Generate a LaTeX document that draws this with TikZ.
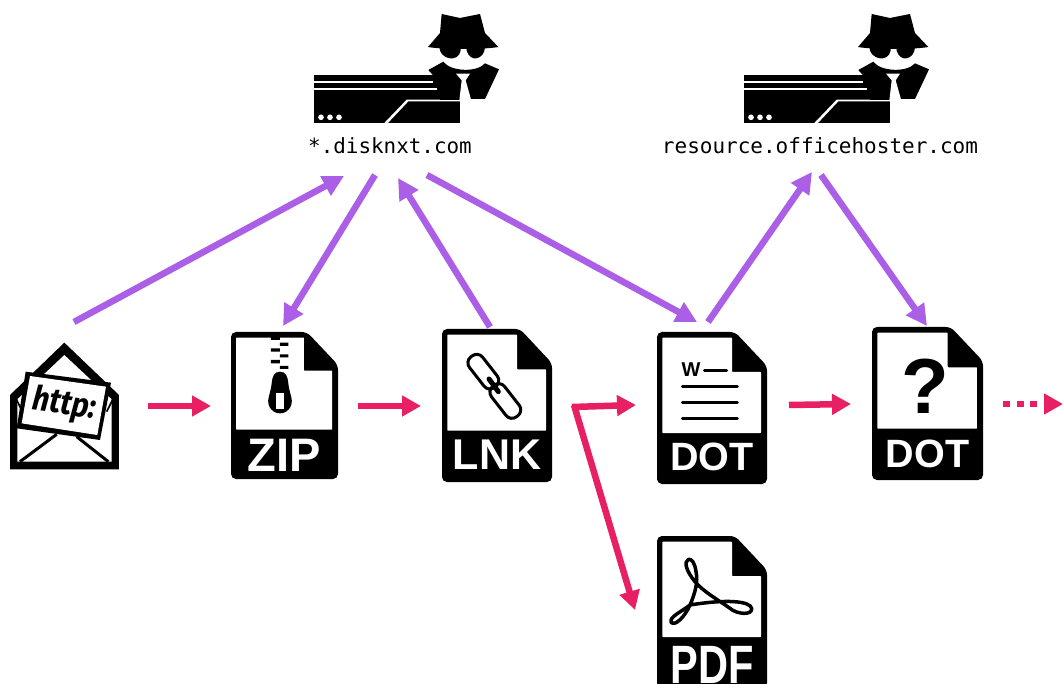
\documentclass[tikz,border=0pt]{standalone}
\usepackage{fontspec}
\setmainfont{Liberation Sans}
\newfontfamily\monof{DejaVu Sans Mono}
\newfontfamily\firaf{Fira Sans}
\usetikzlibrary{arrows.meta}
\definecolor{pur}{HTML}{AB5FE6}
\definecolor{pnk}{HTML}{E91F63}
\tikzset{
  zc/.style 2 args={shift={(#1,#2)},x=.33333pt,y=-.33333pt},
  box/.style={inner sep=0pt,outer sep=0pt,draw=none},
  purarrow/.style={draw=pur,line width=6.5pt,-{Triangle[length=21pt,width=21pt]}},
  pnkarrow/.style={draw=pnk,line width=6.5pt,-{Triangle[length=19pt,width=20pt]}},
  filelabel/.style={box,text=white,font=\bfseries},
  srvlabel/.style={box,minimum width=165pt,minimum height=22pt,font=\monof\fontsize{20.9}{21}\selectfont},
  gl/.style={line width=3pt,line cap=round,draw=black}
}
% name, x, y, w, h, label, label y, font size, label xscale
\newcommand{\fileicon}[9]{%
  \begin{scope}[shift={(#2,#3)},x=#4/110*1pt,y=-#5/152*1pt]
    \fill[rounded corners=5pt] (0,0)--(78,0)--(110,34)--(110,152)--(0,152)--cycle;
    \fill[white,rounded corners=.6pt] (5.3,5.7)--(75,5.7)--(75,40)--(104,40)--(104,101)--(5.3,101)--cycle;
  \end{scope}
  \node[box,minimum width=#4pt,minimum height=#5pt] (#1) at (#2+#4/2,#3+#5/2) {};
  \node[filelabel,xscale=#9] (#1label) at (#2+#4/2,#7) {\fontsize{#8}{#8}\selectfont #6};
}
\newcommand{\spyicon}[1]{%
  \begin{scope}[zc={290+#1}{0}]
    \fill (73,225) rectangle (510,370);
    \fill[white] (73,243) rectangle (430,248);
    \fill[white] (73,265) rectangle (440,270);
    \fill[white] (280,372)--(350,299)--(512,299)--(512,304)--(355,304)--(291,372)--cycle;
    \fill[white] (93,352) circle (8.5) (120,352) circle (8.5) (147,352) circle (8.5);
  \end{scope}
  \begin{scope}[zc={420+#1}{8}]
    \fill[white] (60,150) rectangle (210,200);
    \fill (65,18)--(120,30)--(180,18)--(195,75)--(235,117) .. controls (190,125) and (70,125) .. (24,117)--(60,75)--cycle;
    \fill (58,118) .. controls (60,155) and (115,165) .. (122,128) -- (122,118) -- cycle;
    \fill (140,118) -- (140,128) .. controls (150,165) and (193,155) .. (195,118) -- cycle;
    \fill (25,186)--(70,161) .. controls (90,190) and (170,195) .. (195,166)--(237,184)--(195,273)--(153,273)--(115,276)--(60,276)--(60,225)--cycle;
    \fill[white] (108,197)--(150,197)--(137,217)--(154,278)--(118,278)--(125,217)--cycle;
  \end{scope}
}
\begin{document}
\begin{tikzpicture}[x=1pt,y=-1pt]
\path[use as bounding box,clip] (0,0) rectangle (1063,684);
\fill[white] (0,0) rectangle (1063,684);

% servers
\spyicon{0}
\spyicon{430}
\node[srvlabel] (srv1) at (390,146) {*.disknxt.com};
\node[srvlabel,minimum width=318pt,font=\monof\fontsize{21}{21}\selectfont] (srv2) at (820,146) {resource.officehoster.com};

% mail
\node[box,minimum width=109pt,minimum height=127pt] (mail) at (64.5,406.5) {};
\begin{scope}[zc={5}{340}]
  \fill (15,165)--(178,8)--(342,165)--(342,388)--(15,388)--cycle;
  \fill[white] (37,178)--(178,45)--(320,178)--(320,365)--(37,365)--cycle;
  \draw[line width=3pt] (45,365)--(155,283) (310,365)--(215,290);
  \draw[line width=1.6pt] (28,165)--(52,215) (330,165)--(305,215);
  \fill (62,95)--(318,128)--(285,300)--(35,265)--cycle;
  \fill[white] (75,108)--(303,140)--(277,285)--(50,250)--cycle;
  \node[box,rotate=-8,xscale=.88,font=\firaf\bfseries\itshape\fontsize{34}{34}\selectfont] (http) at (178,195) {http:};
\end{scope}

% files
\fileicon{zip}{231}{332}{107}{147}{ZIP}{455}{47}{1}
\fileicon{lnk}{442}{329}{110}{153}{LNK}{455}{43}{1}
\fileicon{dotone}{657}{332}{110}{152}{DOT}{457}{39.5}{1}
\fileicon{dottwo}{872}{327}{111}{153}{DOT}{454}{39.5}{1}
\fileicon{pdf}{657}{536}{110}{152}{PDF}{664.6}{54}{.77}

% zip glyph
\begin{scope}[zc={0}{320}]
  \fill (813,50) rectangle (840,60) (840,68) rectangle (865,78) (813,85) rectangle (840,95)
        (840,103) rectangle (865,112) (813,120) rectangle (840,130) (840,138) rectangle (865,147);
  \fill (840,155) .. controls (858,155) and (863,170) .. (865,190) .. controls (868,220) and (880,240) .. (874,255)
     .. controls (866,275) and (852,280) .. (840,280) .. controls (828,280) and (814,275) .. (806,255)
     .. controls (800,240) and (812,220) .. (815,190) .. controls (817,170) and (822,155) .. (840,155) -- cycle;
  \fill[white] (828,220) rectangle (852,267);
\end{scope}

% lnk glyph
\begin{scope}[zc={430}{320}]
  \begin{scope}[shift={(160,155)},rotate=-52]
    \draw[line width=3pt,rounded corners=7.5pt] (-58,-25) rectangle (58,25);
  \end{scope}
  \begin{scope}[shift={(226,243)},rotate=-52]
    \draw[line width=3pt,rounded corners=7.5pt] (-58,-25) rectangle (58,25);
  \end{scope}
  \draw[line width=5pt,line cap=round] (177,177)--(205,215);
\end{scope}

% dot one glyph
\begin{scope}[zc={430}{320}]
  \node[box,font=\fontsize{20}{20}\selectfont\bfseries] (wmark) at (783,149) {W};
  \draw[gl] (823,153)--(890,153) (757,200)--(922,200) (757,247)--(922,247) (757,295)--(922,295);
\end{scope}

% dot two glyph
\begin{scope}[zc={860}{320}]
  \node[box,font=\fontsize{78}{78}\selectfont\bfseries] (qmark) at (197,198) {?};
\end{scope}

% pdf glyph
\begin{scope}[zc={640}{525}]
  \draw[line width=3.5pt,line join=round] (150,240) .. controls (125,260) and (88,275) .. (93,292)
    .. controls (105,305) and (135,275) .. (150,240)
    .. controls (165,205) and (175,170) .. (168,140)
    .. controls (165,115) and (155,100) .. (145,103)
    .. controls (130,110) and (140,140) .. (165,170)
    .. controls (190,200) and (235,225) .. (270,250)
    .. controls (290,268) and (338,272) .. (335,250)
    .. controls (330,228) and (260,222) .. (150,240);
\end{scope}

\coordinate (nextstage) at (1063,404);

% purple connectors
\draw[purarrow] ([shift={(9.5,-84.5)}]mail.center) -- ([shift={(-46,30)}]srv1.center);
\draw[purarrow] ([shift={(-15,29)}]srv1.center) -- ([shift={(-1.5,-79.5)}]zip.center);
\draw[purarrow] ([shift={(-7,-78.5)}]lnk.center) -- ([shift={(8,32)}]srv1.center);
\draw[purarrow] ([shift={(37,29)}]srv1.center) -- ([shift={(-15,-86)}]dotone.center);
\draw[purarrow] ([shift={(-4,-86)}]dotone.center) -- ([shift={(-8,26)}]srv2.center);
\draw[purarrow] ([shift={(1,29)}]srv2.center) -- ([shift={(-.5,-77.5)}]dottwo.center);

% pink connectors
\draw[pnkarrow] ([shift={(83.5,-.5)}]mail.center) -- ([shift={(-73.5,.5)}]zip.center);
\draw[pnkarrow] ([shift={(73.5,.5)}]zip.center) -- ([shift={(-76,.5)}]lnk.center);
\draw[pnkarrow] ([shift={(75,1.5)}]lnk.center) -- ([shift={(-76,-3)}]dotone.center);
\draw[pnkarrow] ([shift={(77,-.5)}]lnk.center) -- ([shift={(-77,-2)}]pdf.center);
\draw[pnkarrow] ([shift={(77,-3)}]dotone.center) -- ([shift={(-76.5,.5)}]dottwo.center);
\draw[pnkarrow,dash pattern=on 7pt off 6.5pt,-{Triangle[length=19pt,width=20pt,sep=0pt]}] ([shift={(75.5,.5)}]dottwo.center) -- (nextstage);
\end{tikzpicture}
\end{document}
